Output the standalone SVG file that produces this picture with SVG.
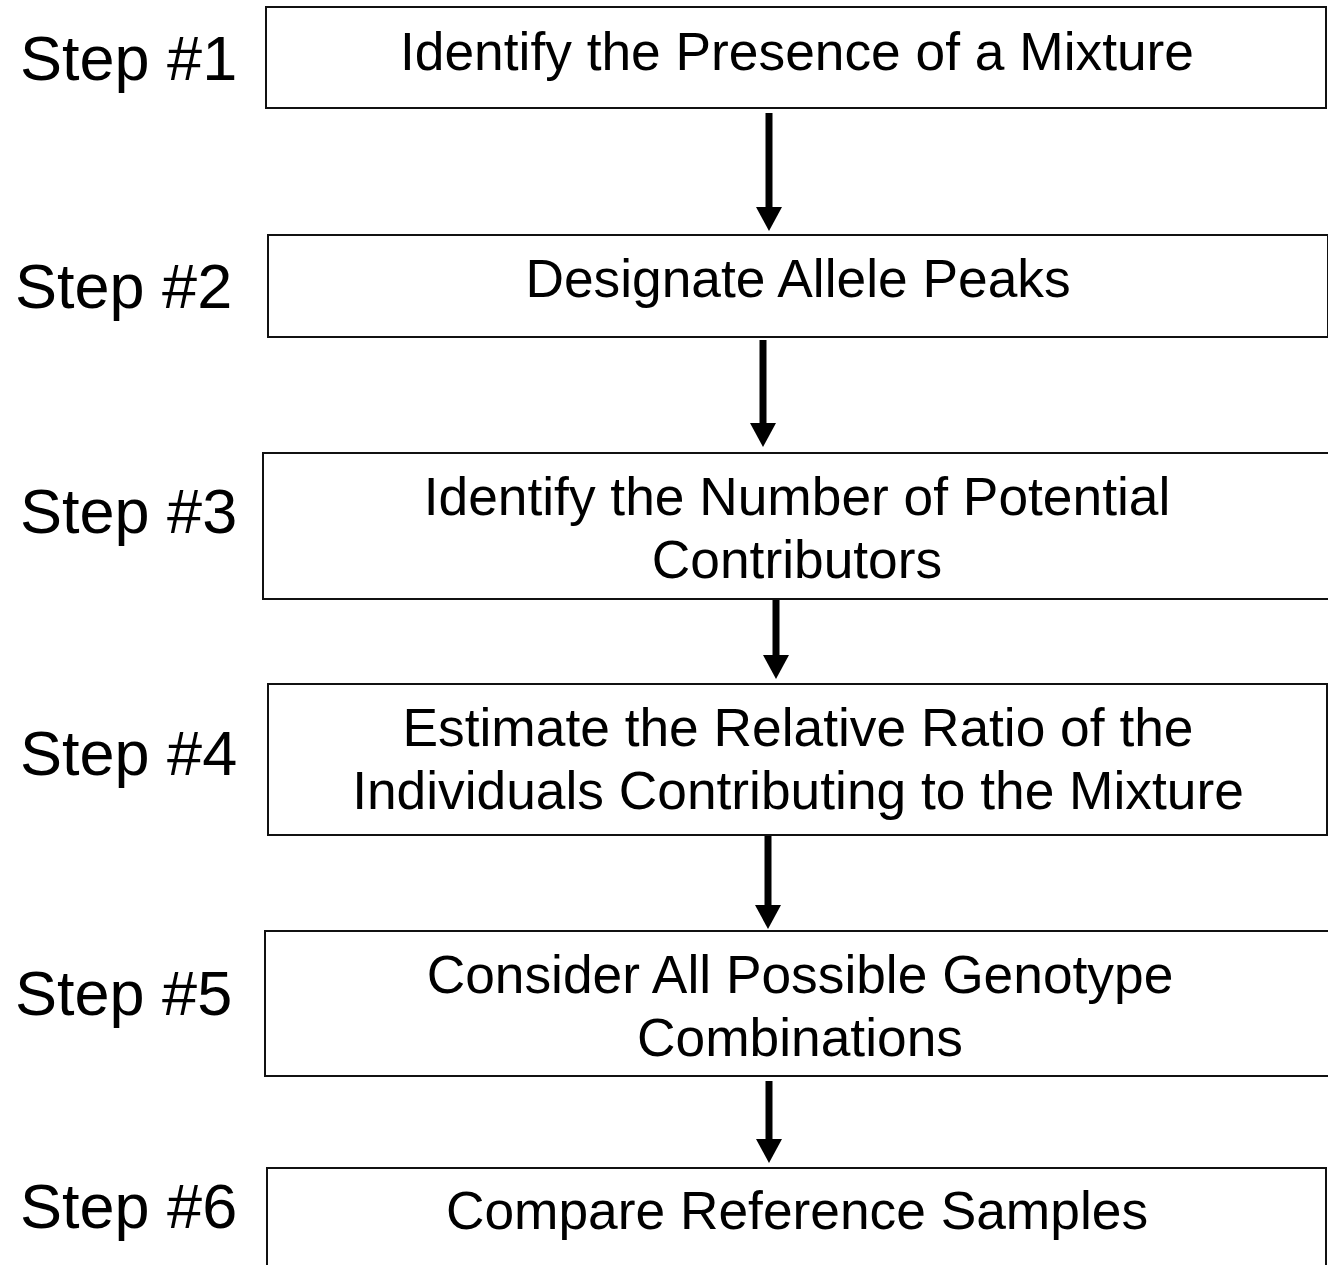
<svg xmlns="http://www.w3.org/2000/svg" width="1328" height="1265" viewBox="0 0 1328 1265">
<style>
.box{fill:#fff;stroke:#111;stroke-width:2}
.t{font-family:"Liberation Sans",Arial,sans-serif;font-size:53.3px;fill:#000;text-anchor:middle}
.s{font-family:"Liberation Sans",Arial,sans-serif;font-size:63px;fill:#000}
.c{stroke:#000;stroke-width:7;fill:none}
</style>
<defs>
<marker id="ah" markerUnits="userSpaceOnUse" markerWidth="24" markerHeight="26" refX="0" refY="13" orient="auto" viewBox="0 0 24 26">
<path d="M0,0 L24,13 L0,26 z" fill="#000"/>
</marker>
</defs>
<rect width="1328" height="1265" fill="#fff"/>
<g id="labels">
<text class="s" x="20" y="80">Step #1</text>
<text class="s" x="15" y="308">Step #2</text>
<text class="s" x="20" y="533">Step #3</text>
<text class="s" x="20" y="775">Step #4</text>
<text class="s" x="15" y="1015">Step #5</text>
<text class="s" x="20" y="1228">Step #6</text>
</g>
<g id="step1">
<rect class="box" x="266" y="7" width="1060" height="101"/>
<text class="t" x="797" y="70">Identify the Presence of a Mixture</text>
</g>
<g id="step2">
<rect class="box" x="268" y="235" width="1060" height="102"/>
<text class="t" x="798" y="297">Designate Allele Peaks</text>
</g>
<g id="step3">
<rect class="box" x="263" y="453" width="1080" height="146"/>
<text class="t" x="797" y="515">Identify the Number of Potential</text>
<text class="t" x="797" y="578">Contributors</text>
</g>
<g id="step4">
<rect class="box" x="268" y="684" width="1059" height="151"/>
<text class="t" x="798" y="746">Estimate the Relative Ratio of the</text>
<text class="t" x="798" y="809">Individuals Contributing to the Mixture</text>
</g>
<g id="step5">
<rect class="box" x="265" y="931" width="1080" height="145"/>
<text class="t" x="800" y="993">Consider All Possible Genotype</text>
<text class="t" x="800" y="1056">Combinations</text>
</g>
<g id="step6">
<rect class="box" x="267" y="1168" width="1059" height="130"/>
<text class="t" x="797" y="1229">Compare Reference Samples</text>
</g>
<g id="connectors">
<line class="c" x1="769" y1="113" x2="769" y2="207" marker-end="url(#ah)"/>
<line class="c" x1="763" y1="340" x2="763" y2="423" marker-end="url(#ah)"/>
<line class="c" x1="776" y1="600" x2="776" y2="655" marker-end="url(#ah)"/>
<line class="c" x1="768" y1="836" x2="768" y2="905" marker-end="url(#ah)"/>
<line class="c" x1="769" y1="1081" x2="769" y2="1139" marker-end="url(#ah)"/>
</g>
</svg>
